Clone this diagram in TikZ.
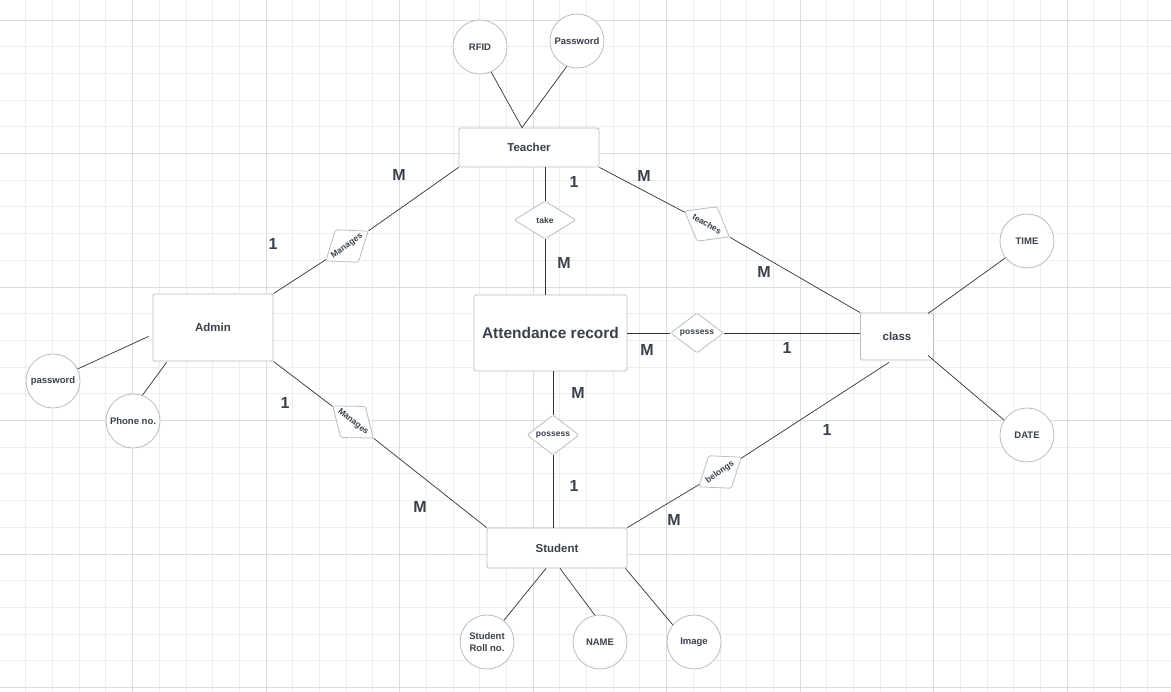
\documentclass[tikz,border=0pt]{standalone}
\usepackage{fontspec}
\setmainfont{Liberation Sans}
\usetikzlibrary{shapes.geometric,calc}
\definecolor{txt}{HTML}{3A414A}
\definecolor{gridminor}{HTML}{EDEDED}
\definecolor{gridmajor}{HTML}{DCDCDC}
\definecolor{shapeborder}{HTML}{BDBDBD}
\definecolor{edgecol}{HTML}{333333}
\begin{document}
\begin{tikzpicture}[x=1pt,y=-1pt,
  entity/.style={rectangle, draw=shapeborder, fill=white, rounded corners=1.5pt, line width=0.8pt,
    font=\bfseries\fontsize{11.5}{13}\selectfont, text=txt, inner sep=0pt},
  attr/.style={circle, draw=shapeborder, fill=white, line width=0.8pt, minimum size=54pt, inner sep=0pt,
    font=\bfseries\fontsize{9.5}{11.5}\selectfont, text=txt, align=center},
  rel/.style={diamond, draw=shapeborder, fill=white, line width=0.8pt, minimum width=53pt, minimum height=40pt,
    inner sep=0pt, shape aspect=1.35, rounded corners=1.5pt, font=\bfseries\fontsize{8.5}{10}\selectfont, text=txt},
  conn/.style={draw=edgecol, line width=0.7pt},
  card/.style={font=\bfseries\fontsize{16}{19}\selectfont, text=txt, inner sep=0pt},
  gminor/.style={draw=gridminor, line width=0.8pt},
  gmajor/.style={draw=gridmajor, line width=0.8pt}]
\useasboundingbox (0,0) rectangle (1171,692);
\fill[white] (0,0) rectangle (1171,692);
% grid
\foreach \i in {1,...,43} {\draw[gminor] ({\i*26.7-1},0) -- ({\i*26.7-1},692);}
\foreach \j in {0,...,25} {\draw[gminor] (0,{20+\j*26.7}) -- (1171,{20+\j*26.7});}
\foreach \i in {5,10,...,40} {\draw[gmajor] ({\i*26.7-1},0) -- ({\i*26.7-1},692);}
\foreach \j in {0,5,...,25} {\draw[gmajor] (0,{20+\j*26.7}) -- (1171,{20+\j*26.7});}

% entities
\node[entity, minimum width=140pt, minimum height=39pt] (teacher) at (529,147.5) {Teacher};
\node[entity, minimum width=120pt, minimum height=67pt] (admin) at (213,327.5) {Admin};
\node[entity, minimum width=153pt, minimum height=76pt, font=\bfseries\fontsize{15.5}{18}\selectfont] (att) at (550.5,333) {Attendance record};
\node[entity, minimum width=73pt, minimum height=47pt] (class) at (897,336.5) {class};
\node[entity, minimum width=140pt, minimum height=40pt] (student) at (557,548) {Student};

% attributes
\node[attr] (rfid) at (480,47) {RFID};
\node[attr] (pwd) at (577,41) {Password};
\node[attr] (pw2) at (53,381) {password};
\node[attr] (phone) at (133,421) {Phone no.};
\node[attr] (time) at (1027,241) {TIME};
\node[attr] (date) at (1027,435) {DATE};
\node[attr] (roll) at (487,642) {Student\\Roll no.};
\node[attr] (name) at (600,642) {NAME};
\node[attr] (image) at (694,642) {Image};

% relationships
\node[rel, minimum width=62pt, minimum height=38pt] (take) at (545,220) {take};
\node[rel] (pos1) at (697,333) {possess};
\node[rel, minimum width=52pt] (pos2) at (553,435) {possess};
\node[rel, minimum width=52pt, rotate=35] (man1) at (347,246) {Manages};
\node[rel, minimum width=52pt, rotate=-30] (teaches) at (707,224) {teaches};
\node[rel, minimum width=52pt, rotate=-38.5] (man2) at (353,422) {Manages};
\node[rel, minimum width=52pt, rotate=35] (belongs) at (720,472) {belongs};

% connectors
\draw[conn] (rfid.-66) -- ($(teacher.north)+(-7,0)$);
\draw[conn] (pwd.-112) -- ($(teacher.north)+(-7,0)$);
\draw[conn] (teacher.south west) -- (man1) -- (admin.north east);
\draw[conn] (take.north) -- (take.north |- teacher.south);
\draw[conn] (take.south) -- (take.south |- att.north);
\draw[conn] (teacher.south east) -- (teaches) -- (class.north west);
\draw[conn] (att.east |- pos1.west) -- (pos1.west);
\draw[conn] (pos1.east) -- (pos1.east -| class.west);
\draw[conn] (pos2.north) -- (pos2.north |- att.south);
\draw[conn] (pos2.south) -- (pos2.south |- student.north);
\draw[conn] (admin.south east) -- (man2) -- (student.north west);
\draw[conn] ($(class.south)+(-8,2)$) -- (belongs) -- (student.north east);
\draw[conn] ($(admin.south west)+(-4,-25)$) -- (pw2.26);
\draw[conn] ($(admin.south west)+(14,1)$) -- (phone.70);
\draw[conn] ($(class.north east)+(-6,1)$) -- (time.218);
\draw[conn] ($(class.south east)+(-6,-5)$) -- (date.147);
\draw[conn] ($(student.south)+(-11,0)$) -- (roll.52);
\draw[conn] ($(student.south)+(3,0)$) -- (name.101);
\draw[conn] ($(student.south east)+(-2,0)$) -- (image.141);

% cardinalities
\node[card] (c1) at (399,175) {M};
\node[card] (c2) at (273,244) {1};
\node[card] (c3) at (574,182) {1};
\node[card] (c4) at (564,263) {M};
\node[card] (c5) at (644,176) {M};
\node[card] (c6) at (764,272) {M};
\node[card] (c7) at (647,350) {M};
\node[card] (c8) at (787,348) {1};
\node[card] (c9) at (578,393) {M};
\node[card] (c10) at (574,486) {1};
\node[card] (c11) at (285,403) {1};
\node[card] (c12) at (420,507) {M};
\node[card] (c13) at (827,430) {1};
\node[card] (c14) at (674,520) {M};
\end{tikzpicture}
\end{document}
